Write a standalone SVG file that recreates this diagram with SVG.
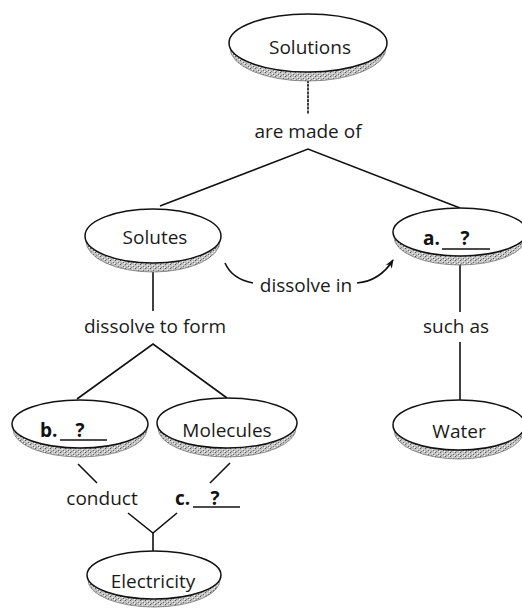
<svg xmlns="http://www.w3.org/2000/svg" width="522" height="614" viewBox="0 0 522 614">
<defs>
<pattern id="speck" width="5" height="4" patternUnits="userSpaceOnUse">
<rect width="5" height="4" fill="#c4c4c4"/>
<rect x="0" y="0" width="1" height="1" fill="#555"/>
<rect x="2" y="1" width="1" height="1" fill="#eee"/>
<rect x="3" y="2" width="1" height="1" fill="#666"/>
<rect x="1" y="3" width="1" height="1" fill="#888"/>
<rect x="4" y="3" width="1" height="1" fill="#fff"/>
</pattern>
<marker id="arr" viewBox="0 0 10 10" refX="9" refY="5" markerWidth="9" markerHeight="9" orient="auto" markerUnits="userSpaceOnUse">
<path d="M0,1 L10,5 L0,9 L3,5 Z" fill="#111"/>
</marker>
</defs>
<style>
.sh{fill:url(#speck);stroke:#777;stroke-width:0.8}
.el{fill:#fff;stroke:#111;stroke-width:1.5}
.t{font-family:"Open Sans","Liberation Sans",sans-serif;font-size:19px;fill:#1a1a1a}
.c{text-anchor:middle}
.b{font-weight:bold;fill:#111}
.ln{fill:none;stroke:#111;stroke-width:1.6}
.ul{stroke:#111;stroke-width:1.5}
</style>
<rect width="522" height="614" fill="#fff"/>
<g id="connectors">
<line class="ln" x1="308" y1="80" x2="308" y2="114" stroke-width="2" stroke-dasharray="3 0.8"/>
<polyline class="ln" points="160,206 308,149 460,208"/>
<line class="ln" x1="153" y1="270" x2="153" y2="311"/>
<polyline class="ln" points="77,399 153,344 227,398"/>
<path class="ln" d="M225,263 Q232,279 253,283"/>
<path class="ln" d="M357,283 Q380,281 393,260" marker-end="url(#arr)"/>
<line class="ln" x1="460" y1="265" x2="460" y2="312"/>
<line class="ln" x1="460" y1="342" x2="460" y2="400"/>
<line class="ln" x1="78" y1="464" x2="97" y2="483"/>
<line class="ln" x1="230" y1="463" x2="210" y2="483"/>
<polyline class="ln" points="128,513 153,533 177,513"/>
<line class="ln" x1="153" y1="533" x2="153" y2="553"/>
</g>
<g id="solutions">
<ellipse class="sh" cx="308" cy="48" rx="78" ry="33"/>
<ellipse class="el" cx="308" cy="43" rx="79" ry="29"/>
<text class="t c" x="310" y="54">Solutions</text>
</g>
<text class="t c" x="308" y="138">are made of</text>
<g id="solutes">
<ellipse class="sh" cx="153" cy="241" rx="67" ry="31"/>
<ellipse class="el" cx="153" cy="236" rx="68" ry="27"/>
<text class="t c" x="155" y="244">Solutes</text>
</g>
<g id="a">
<ellipse class="sh" cx="460" cy="237" rx="66" ry="28"/>
<ellipse class="el" cx="460" cy="232" rx="67" ry="24"/>
<text class="t b" x="423" y="245">a.</text>
<line class="ul" x1="442" y1="249" x2="490" y2="249"/>
<text class="t b c" x="465" y="245">?</text>
</g>
<text class="t c" x="306" y="292">dissolve in</text>
<text class="t c" x="155" y="333">dissolve to form</text>
<text class="t c" x="456" y="333">such as</text>
<g id="b">
<ellipse class="sh" cx="80" cy="429" rx="67" ry="28"/>
<ellipse class="el" cx="80" cy="424" rx="68" ry="24"/>
<text class="t b" x="40" y="437">b.</text>
<line class="ul" x1="60" y1="440" x2="107" y2="440"/>
<text class="t b c" x="80" y="437">?</text>
</g>
<g id="molecules">
<ellipse class="sh" cx="227" cy="428" rx="69" ry="29"/>
<ellipse class="el" cx="227" cy="423" rx="70" ry="25"/>
<text class="t c" x="227" y="437">Molecules</text>
</g>
<g id="water">
<ellipse class="sh" cx="459" cy="430" rx="65" ry="29"/>
<ellipse class="el" cx="459" cy="425" rx="66" ry="25"/>
<text class="t c" x="459" y="438">Water</text>
</g>
<text class="t c" x="102" y="505">conduct</text>
<g id="c">
<text class="t b" x="175" y="505">c.</text>
<line class="ul" x1="193" y1="507" x2="240" y2="507"/>
<text class="t b c" x="215" y="505">?</text>
</g>
<g id="electricity">
<ellipse class="sh" cx="154" cy="580" rx="66" ry="27"/>
<ellipse class="el" cx="154" cy="575" rx="67" ry="24"/>
<text class="t c" x="153" y="588">Electricity</text>
</g>
</svg>
